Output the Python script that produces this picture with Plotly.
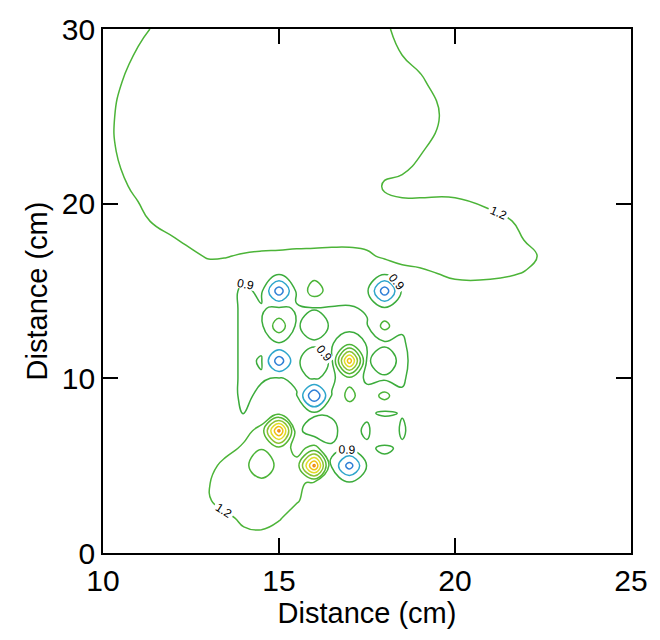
import plotly.graph_objects as go

# grid node positions (cm)
x_nodes = [10, 11, 12, 13, 13.5, 14, 14.5, 15, 15.5, 16, 16.5, 17, 17.5, 18, 18.5, 19, 20, 21, 22, 23, 25]
y_nodes = [0, 1, 2, 3, 4, 5, 6, 7, 8, 9, 10, 11, 12, 13, 14, 15, 16, 17, 18, 19, 21, 23, 25, 27, 30]

# field values (rows follow y_nodes, bottom to top)
z_values = [
    [1.1, 1.1, 1.1, 1.1, 1.1, 1.1, 1.1, 1.1, 1.1, 1.1, 1.1, 1.1, 1.1, 1.1, 1.1, 1.1, 1.1, 1.1, 1.1, 1.1, 1.1],
    [1.1, 1.1, 1.1, 1.1, 1.1, 1.15, 1.15, 1.1, 1.1, 1.1, 1.1, 1.1, 1.1, 1.1, 1.1, 1.1, 1.1, 1.1, 1.1, 1.1, 1.1],
    [1.1, 1.1, 1.1, 1.1, 1.15, 1.25, 1.3, 1.22, 1.1, 1.1, 1.1, 1.1, 1.1, 1.1, 1.1, 1.1, 1.1, 1.1, 1.1, 1.1, 1.1],
    [1.1, 1.1, 1.1, 1.18, 1.3, 1.35, 1.35, 1.3, 1.22, 1.1, 1.1, 1.1, 1.1, 1.1, 1.1, 1.1, 1.1, 1.1, 1.1, 1.1, 1.1],
    [1.1, 1.1, 1.1, 1.19, 1.3, 1.35, 1.3, 1.35, 1.3, 1.1, 1.0, 0.95, 1.0, 1.05, 1.1, 1.1, 1.1, 1.1, 1.1, 1.1, 1.1],
    [1.1, 1.1, 1.1, 1.1, 1.3, 1.3, 0.95, 1.3, 1.3, 2.8, 0.88, 0.15, 0.92, 1.0, 0.95, 1.1, 1.1, 1.1, 1.1, 1.1, 1.1],
    [1.1, 1.1, 1.1, 1.1, 1.1, 1.25, 1.22, 1.4, 1.1, 1.3, 0.92, 0.95, 0.95, 0.85, 0.95, 1.1, 1.1, 1.1, 1.1, 1.1, 1.1],
    [1.1, 1.1, 1.1, 1.1, 1.05, 1.1, 1.3, 2.8, 1.0, 0.7, 0.85, 1.0, 0.85, 1.15, 0.85, 1.1, 1.1, 1.1, 1.1, 1.1, 1.1],
    [1.1, 1.1, 1.1, 1.1, 1.0, 0.88, 1.0, 1.1, 0.95, 0.95, 0.92, 1.0, 0.95, 0.85, 0.92, 1.1, 1.1, 1.1, 1.1, 1.1, 1.1],
    [1.1, 1.1, 1.1, 1.1, 1.0, 0.85, 0.95, 1.0, 0.92, 0.0, 0.92, 1.3, 1.0, 1.3, 0.95, 1.1, 1.1, 1.1, 1.1, 1.1, 1.1],
    [1.1, 1.1, 1.1, 1.1, 1.0, 0.85, 0.88, 0.92, 0.85, 0.92, 0.85, 1.1, 0.85, 0.85, 0.85, 1.1, 1.1, 1.1, 1.1, 1.1, 1.1],
    [1.1, 1.1, 1.1, 1.1, 1.0, 0.85, 0.92, 0.1, 0.85, 1.1, 0.85, 2.6, 0.85, 1.1, 0.8, 1.1, 1.1, 1.1, 1.1, 1.1, 1.1],
    [1.1, 1.1, 1.1, 1.1, 1.0, 0.85, 0.85, 0.88, 0.85, 0.85, 0.88, 1.1, 0.88, 0.85, 0.85, 1.1, 1.1, 1.1, 1.1, 1.1, 1.1],
    [1.1, 1.1, 1.1, 1.1, 1.0, 0.85, 0.85, 1.4, 0.85, 1.1, 0.85, 0.8, 0.88, 1.3, 0.95, 1.1, 1.1, 1.1, 1.1, 1.1, 1.1],
    [1.1, 1.1, 1.1, 1.1, 1.0, 0.85, 0.88, 0.95, 0.88, 0.88, 0.88, 0.88, 0.92, 0.95, 0.92, 1.1, 1.1, 1.1, 1.1, 1.1, 1.1],
    [1.1, 1.1, 1.1, 1.1, 1.0, 0.85, 0.95, 0.1, 0.95, 1.35, 1.05, 1.0, 0.95, 0.1, 0.95, 1.1, 1.1, 1.1, 1.1, 1.1, 1.1],
    [1.1, 1.1, 1.1, 1.1, 1.1, 0.95, 1.0, 0.95, 1.05, 1.1, 1.05, 1.0, 1.0, 0.95, 1.1, 1.15, 1.25, 1.25, 1.19, 1.1, 1.1],
    [1.1, 1.1, 1.1, 1.22, 1.21, 1.18, 1.16, 1.15, 1.13, 1.12, 1.1, 1.1, 1.15, 1.25, 1.3, 1.3, 1.3, 1.3, 1.25, 1.1, 1.1],
    [1.1, 1.1, 1.19, 1.3, 1.3, 1.3, 1.3, 1.3, 1.3, 1.3, 1.3, 1.3, 1.3, 1.3, 1.3, 1.3, 1.3, 1.3, 1.19, 1.1, 1.1],
    [1.1, 1.15, 1.3, 1.3, 1.3, 1.3, 1.3, 1.3, 1.3, 1.3, 1.3, 1.3, 1.3, 1.3, 1.3, 1.3, 1.3, 1.25, 1.17, 1.1, 1.1],
    [1.1, 1.24, 1.3, 1.3, 1.3, 1.3, 1.3, 1.3, 1.3, 1.3, 1.3, 1.3, 1.3, 1.18, 1.15, 1.15, 1.15, 1.1, 1.1, 1.1, 1.1],
    [1.14, 1.3, 1.3, 1.3, 1.3, 1.3, 1.3, 1.3, 1.3, 1.3, 1.3, 1.3, 1.3, 1.3, 1.3, 1.21, 1.1, 1.1, 1.1, 1.1, 1.1],
    [1.15, 1.3, 1.3, 1.3, 1.3, 1.3, 1.3, 1.3, 1.3, 1.3, 1.3, 1.3, 1.3, 1.3, 1.3, 1.3, 1.12, 1.1, 1.1, 1.1, 1.1],
    [1.08, 1.3, 1.3, 1.3, 1.3, 1.3, 1.3, 1.3, 1.3, 1.3, 1.3, 1.3, 1.3, 1.3, 1.3, 1.22, 1.1, 1.1, 1.1, 1.1, 1.1],
    [1.1, 1.15, 1.3, 1.3, 1.3, 1.3, 1.3, 1.3, 1.3, 1.3, 1.3, 1.3, 1.3, 1.25, 1.1, 1.1, 1.1, 1.1, 1.1, 1.1, 1.1],
]

x_ticks = [10, 15, 20, 25]
y_ticks = [0, 10, 20, 30]

line_colors = [
    [0.0, "#2f7fd6"],
    [0.125, "#2fa6cc"],
    [0.25, "#3cac3c"],
    [0.375, "#4cb438"],
    [0.5, "#56b632"],
    [0.625, "#8cc232"],
    [0.75, "#e0dc28"],
    [0.875, "#f0c010"],
    [1.0, "#f08a10"],
]

FONT = "Liberation Sans, Arial, sans-serif"

fig = go.Figure(
    go.Contour(
        x=x_nodes,
        y=y_nodes,
        z=z_values,
        zauto=False,
        zmin=0.3,
        zmax=2.7,
        autocontour=False,
        contours=dict(
            start=0.3,
            end=2.7,
            size=0.3,
            coloring="lines",
            showlabels=True,
            labelfont=dict(family=FONT, size=12, color="black"),
            labelformat=".1f",
        ),
        colorscale=line_colors,
        line=dict(width=1.5, smoothing=1.3),
        showscale=False,
        hoverinfo="skip",
    )
)

axis_common = dict(
    showline=True,
    linecolor="black",
    linewidth=1.8,
    mirror="ticks",
    ticks="inside",
    ticklen=15,
    tickwidth=1.8,
    tickcolor="black",
    showgrid=False,
    zeroline=False,
    tickfont=dict(family=FONT, size=30, color="black"),
)

fig.update_layout(
    width=660,
    height=640,
    margin=dict(l=103, r=21, t=21, b=87),
    paper_bgcolor="white",
    plot_bgcolor="white",
    font=dict(family=FONT, color="black"),
    xaxis=dict(
        range=[10, 25],
        tickvals=x_ticks,
        title=dict(text="Distance (cm)", font=dict(family=FONT, size=29), standoff=2),
        **axis_common,
    ),
    yaxis=dict(
        range=[0, 30],
        tickvals=y_ticks,
        title=dict(text="Distance (cm)", font=dict(family=FONT, size=29), standoff=6),
        **axis_common,
    ),
)

fig.write_html("out.html")
